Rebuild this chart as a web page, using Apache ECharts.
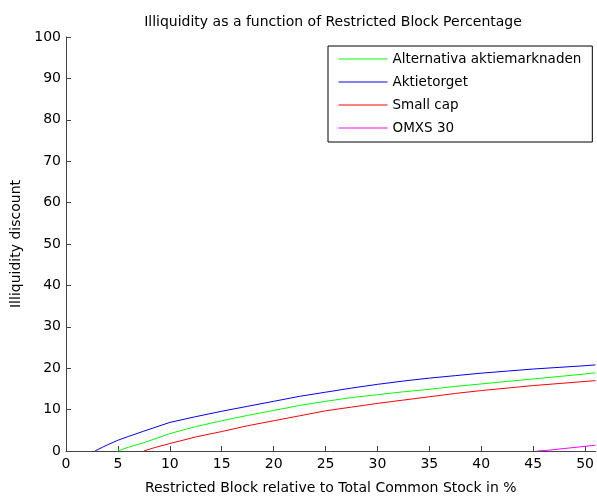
<!DOCTYPE html>
<html>
<head>
<meta charset="utf-8">
<script src="https://cdn.jsdelivr.net/npm/echarts@6/dist/echarts.min.js"></script>
<style>html,body{margin:0;padding:0;background:#fff}#c{width:597px;height:500px}</style>
</head>
<body>
<div id="c"></div>
<script>
const seriesNames = ['Alternativa aktiemarknaden', 'Aktietorget', 'Small cap', 'OMXS 30'];
const seriesColors = ['#00ff00', '#0000ff', '#ff0000', '#ff00ff'];

const greenX = [5, 6, 7.5, 10, 12.5, 15, 17.5, 20, 22.5, 25, 27.5, 30, 32.5, 35, 37.5, 40, 42.5, 45, 47.5, 50, 51];
const greenY = [0, 0.9, 2.0, 4.2, 5.9, 7.3, 8.6, 9.8, 11.0, 12.0, 12.9, 13.6, 14.3, 14.9, 15.6, 16.2, 16.8, 17.4, 18.0, 18.6, 18.9];

const blueX = [2.8, 3.5, 4, 5, 6, 7.5, 10, 12.5, 15, 17.5, 20, 22.5, 25, 27.5, 30, 32.5, 35, 37.5, 40, 42.5, 45, 47.5, 50, 51];
const blueY = [0, 0.9, 1.5, 2.6, 3.5, 4.8, 6.9, 8.3, 9.6, 10.8, 12.0, 13.2, 14.2, 15.2, 16.1, 16.9, 17.6, 18.2, 18.8, 19.3, 19.8, 20.2, 20.6, 20.8];

const redX = [7.5, 8.5, 10, 12.5, 15, 17.5, 20, 22.5, 25, 27.5, 30, 32.5, 35, 37.5, 40, 42.5, 45, 47.5, 50, 51];
const redY = [0, 0.8, 1.8, 3.4, 4.7, 6.1, 7.3, 8.5, 9.7, 10.6, 11.5, 12.3, 13.1, 13.9, 14.6, 15.2, 15.8, 16.3, 16.8, 17.0];

const magentaX = [45.4, 46.5, 48, 49.5, 51];
const magentaY = [0, 0.2, 0.6, 1.0, 1.4];

const xs = [greenX, blueX, redX, magentaX];
const ys = [greenY, blueY, redY, magentaY];

const FONT = "'DejaVu Sans', sans-serif";
const FS = 14;
const chart = echarts.init(document.getElementById('c'), null, {renderer: 'canvas'});
chart.setOption({
  animation: false,
  backgroundColor: '#fff',
  textStyle: {fontFamily: FONT},
  title: {
    text: 'Illiquidity as a function of Restricted Block Percentage',
    left: 328, top: 10, textAlign: 'center',
    textStyle: {fontFamily: FONT, fontSize: FS, fontWeight: 'normal', color: '#000'}
  },
  legend: {
    orient: 'vertical', left: 328, top: 46,
    padding: [6, 11, 7, 10], itemGap: 9, itemWidth: 49, itemHeight: 14,
    borderColor: '#000', borderWidth: 1, backgroundColor: '#fff',
    itemStyle: {opacity: 0},
    lineStyle: {width: 1},
    textStyle: {fontFamily: FONT, fontSize: 13.5, color: '#000'},
    data: seriesNames
  },
  grid: {left: 66, top: 37, width: 533, height: 418},
  xAxis: {
    type: 'value', min: 0, max: 51, interval: 5,
    name: 'Restricted Block relative to Total Common Stock in %',
    nameLocation: 'middle', nameGap: 30,
    nameTextStyle: {fontFamily: FONT, fontSize: FS, color: '#000'},
    axisLine: {lineStyle: {color: '#444', width: 1}},
    axisTick: {inside: true, length: 5, lineStyle: {color: '#444'}},
    axisLabel: {fontFamily: FONT, fontSize: FS, color: '#000', margin: 6},
    splitLine: {show: false}
  },
  yAxis: {
    type: 'value', min: 0, max: 100, interval: 10,
    name: 'Illiquidity discount',
    nameLocation: 'middle', nameGap: 40,
    nameTextStyle: {fontFamily: FONT, fontSize: FS, color: '#000'},
    axisLine: {show: true, lineStyle: {color: '#444', width: 1}},
    axisTick: {show: true, inside: true, length: 5, lineStyle: {color: '#444'}},
    axisLabel: {fontFamily: FONT, fontSize: FS, color: '#000', margin: 5},
    splitLine: {show: false}
  },
  series: seriesNames.map((n, i) => ({
    name: n, type: 'line', symbol: 'none', showSymbol: false,
    color: seriesColors[i],
    lineStyle: {color: seriesColors[i], width: 1},
    clip: true,
    data: xs[i].map((x, j) => [x, ys[i][j]])
  }))
});
</script>
</body>
</html>
